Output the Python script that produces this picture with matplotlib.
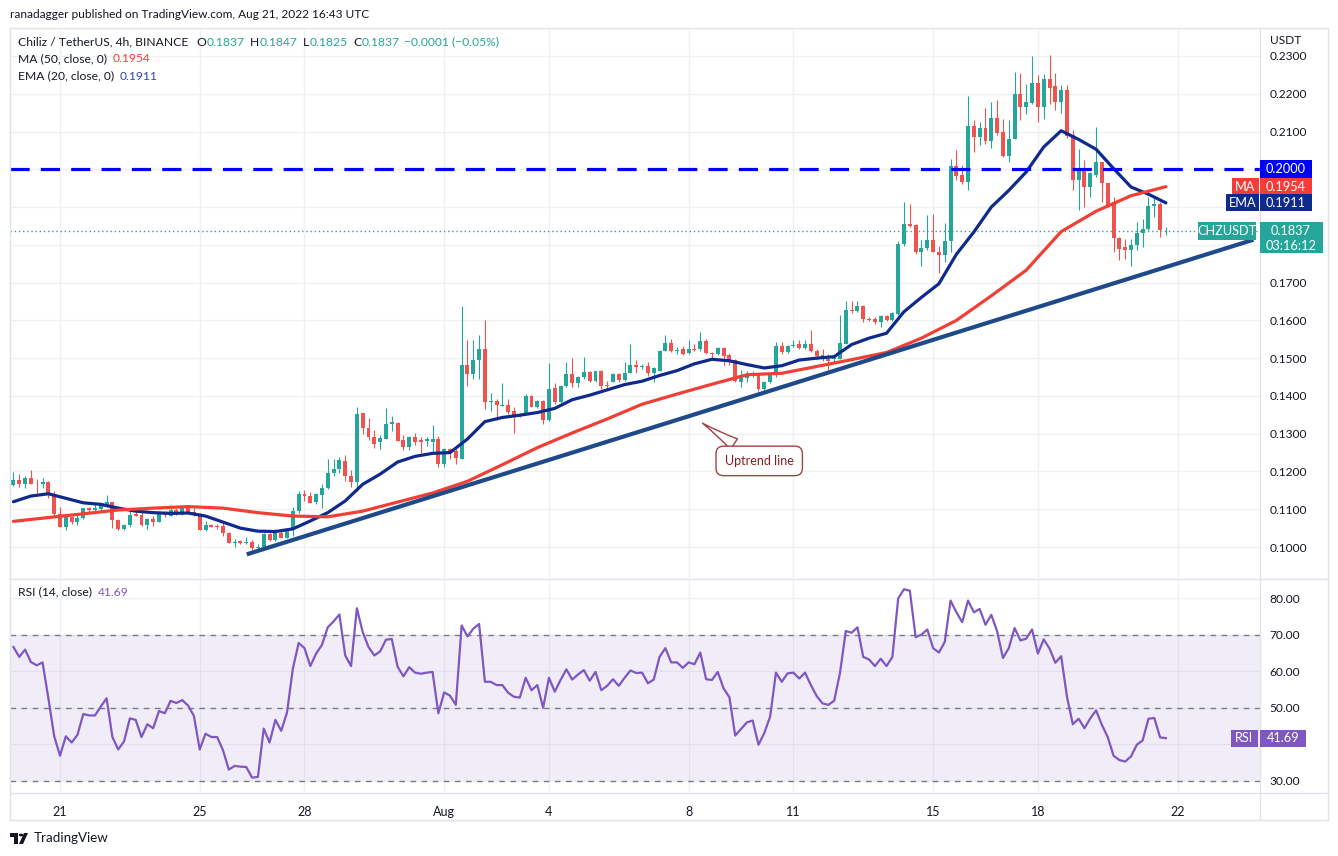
import numpy as np
import pandas as pd
import matplotlib
matplotlib.use("Agg")
import matplotlib.pyplot as plt
import matplotlib.dates as mdates
from matplotlib.patches import Rectangle, Polygon, Circle

plt.rcParams["font.family"] = ["Lato", "DejaVu Sans"]

# ---------------- data ----------------
start_time = "2022-07-19 16:00"
candle_hours = 4

opens = [.1164, .1177, .1168, .1182, .1168, .1166, .1172, .1137, .1088, .1054,
         .1080, .1067, .1076, .1103, .1099, .1100, .1108, .1119, .1071, .1048,
         .1058, .1087, .1085, .1057, .1073, .1067, .1088, .1083, .1098, .1093,
         .1102, .1094, .1087, .1044, .1058, .1055, .1055, .1038, .1011, .1016,
         .1011, .1013, .0998, .1000, .1034, .1018, .1038, .1023, .1044, .1095,
         .1140, .1135, .1118, .1138, .1156, .1195, .1207, .1228, .1187, .1172,
         .1355, .1315, .1291, .1277, .1287, .1325, .1329, .1284, .1266, .1292,
         .1282, .1281, .1279, .1286, .1219, .1259, .1253, .1234, .1483, .1457,
         .1495, .1523, .1383, .1386, .1374, .1377, .1361, .1352, .1352, .1400,
         .1372, .1387, .1336, .1421, .1385, .1425, .1458, .1434, .1449, .1464,
         .1439, .1467, .1430, .1437, .1458, .1443, .1462, .1482, .1476, .1480,
         .1462, .1467, .1520, .1540, .1520, .1524, .1513, .1524, .1524, .1545,
         .1513, .1511, .1527, .1509, .1495, .1438, .1447, .1455, .1458, .1418,
         .1436, .1456, .1531, .1515, .1531, .1537, .1527, .1538, .1520, .1509,
         .1498, .1498, .1498, .1537, .1628, .1626, .1639, .1604, .1603, .1595,
         .1611, .1601, .1617, .1801, .1854, .1852, .1781, .1792, .1813, .1782,
         .1774, .1811, .2008, .1984, .1966, .2114, .2086, .2110, .2075, .2137,
         .2099, .2034, .2081, .2199, .2165, .2176, .2229, .2165, .2240, .2220,
         .2178, .2209, .2090, .1971, .1995, .1953, .1986, .2019, .1964, .1913,
         .1819, .1794, .1787, .1800, .1832, .1842, .1903, .1907, .1837]

highs = [.1199, .1193, .1188, .1204, .1179, .1182, .1174, .1149, .1106, .1082,
         .1082, .1087, .1104, .1106, .1115, .1113, .1138, .1120, .1075, .1062,
         .1100, .1097, .1095, .1078, .1082, .1095, .1095, .1111, .1104, .1104,
         .1104, .1104, .1090, .1069, .1060, .1062, .1064, .1040, .1020, .1018,
         .1027, .1018, .1009, .1036, .1038, .1047, .1042, .1047, .1106, .1149,
         .1150, .1146, .1142, .1166, .1232, .1232, .1237, .1243, .1204, .1371,
         .1356, .1342, .1309, .1296, .1368, .1347, .1331, .1296, .1294, .1301,
         .1290, .1290, .1323, .1294, .1261, .1261, .1259, .1637, .1548, .1549,
         .1562, .1602, .1409, .1392, .1433, .1392, .1371, .1356, .1405, .1402,
         .1390, .1390, .1487, .1434, .1428, .1491, .1501, .1454, .1504, .1467,
         .1467, .1469, .1440, .1462, .1462, .1489, .1537, .1495, .1485, .1489,
         .1476, .1522, .1560, .1551, .1529, .1533, .1548, .1537, .1570, .1550,
         .1517, .1530, .1529, .1513, .1498, .1469, .1467, .1467, .1461, .1440,
         .1462, .1542, .1542, .1535, .1548, .1548, .1548, .1575, .1524, .1524,
         .1511, .1509, .1615, .1650, .1652, .1652, .1642, .1608, .1610, .1613,
         .1613, .1622, .1810, .1913, .1909, .1856, .1813, .1878, .1882, .1798,
         .1857, .2028, .2052, .2010, .2193, .2130, .2125, .2163, .2178, .2183,
         .2134, .2130, .2258, .2255, .2227, .2299, .2249, .2252, .2302, .2254,
         .2223, .2223, .2103, .2055, .2024, .1993, .2112, .2019, .1964, .1926,
         .1821, .1816, .1816, .1860, .1869, .1926, .1926, .1913, .1847]

lows = [.1162, .1160, .1156, .1168, .1144, .1157, .1129, .1083, .1054, .1046,
        .1060, .1057, .1074, .1094, .1091, .1096, .1106, .1051, .1046, .1044,
        .1053, .1082, .1055, .1049, .1055, .1067, .1080, .1083, .1085, .1085,
        .1091, .1082, .1044, .1042, .1052, .1047, .1029, .1011, .1000, .1009,
        .1007, .0991, .0994, .0998, .1016, .1016, .1023, .1025, .1029, .1090,
        .1122, .1116, .1113, .1104, .1153, .1188, .1197, .1175, .1160, .1149,
        .1300, .1284, .1263, .1259, .1287, .1308, .1281, .1257, .1256, .1271,
        .1250, .1268, .1250, .1213, .1213, .1232, .1221, .1232, .1427, .1446,
        .1446, .1365, .1361, .1337, .1374, .1352, .1302, .1345, .1349, .1370,
        .1368, .1325, .1334, .1378, .1382, .1423, .1423, .1423, .1445, .1436,
        .1436, .1418, .1418, .1436, .1438, .1440, .1462, .1462, .1470, .1453,
        .1436, .1465, .1518, .1515, .1511, .1509, .1511, .1518, .1520, .1510,
        .1500, .1508, .1483, .1483, .1436, .1424, .1436, .1449, .1412, .1415,
        .1433, .1449, .1511, .1513, .1529, .1524, .1524, .1515, .1498, .1492,
        .1468, .1489, .1498, .1537, .1619, .1623, .1595, .1598, .1590, .1583,
        .1599, .1599, .1613, .1798, .1847, .1776, .1745, .1785, .1781, .1725,
        .1754, .1781, .1972, .1960, .1944, .2046, .2063, .2066, .2057, .2090,
        .2033, .2019, .2081, .2130, .2147, .2174, .2125, .2134, .2174, .2156,
        .2149, .2084, .1944, .1891, .1900, .1926, .1979, .1913, .1900, .1781,
        .1760, .1763, .1745, .1785, .1794, .1838, .1873, .1822, .1825]

closes = [.1177, .1168, .1182, .1168, .1166, .1172, .1137, .1088, .1054, .1080,
          .1067, .1076, .1103, .1099, .1102, .1111, .1119, .1071, .1048, .1058,
          .1085, .1083, .1057, .1073, .1067, .1088, .1085, .1098, .1093, .1102,
          .1093, .1087, .1044, .1058, .1054, .1053, .1038, .1011, .1014, .1011,
          .1013, .0998, .1000, .1034, .1018, .1038, .1023, .1044, .1095, .1140,
          .1134, .1116, .1140, .1156, .1195, .1207, .1231, .1187, .1172, .1352,
          .1314, .1290, .1274, .1288, .1326, .1330, .1281, .1266, .1292, .1279,
          .1279, .1286, .1287, .1219, .1259, .1250, .1235, .1483, .1457, .1496,
          .1523, .1383, .1386, .1376, .1377, .1358, .1349, .1347, .1400, .1372,
          .1387, .1337, .1418, .1385, .1425, .1458, .1434, .1449, .1464, .1439,
          .1465, .1427, .1425, .1458, .1443, .1462, .1482, .1476, .1480, .1462,
          .1473, .1520, .1540, .1520, .1522, .1511, .1524, .1521, .1545, .1513,
          .1511, .1527, .1507, .1495, .1440, .1449, .1456, .1458, .1418, .1436,
          .1456, .1531, .1515, .1533, .1535, .1527, .1538, .1518, .1507, .1498,
          .1492, .1502, .1539, .1628, .1624, .1639, .1604, .1601, .1595, .1611,
          .1601, .1619, .1801, .1854, .1849, .1781, .1792, .1813, .1781, .1774,
          .1811, .2008, .1981, .1966, .2114, .2086, .2110, .2075, .2137, .2096,
          .2034, .2081, .2199, .2165, .2178, .2229, .2165, .2240, .2216, .2178,
          .2209, .2087, .1971, .1995, .1953, .1990, .2019, .1964, .1906, .1818,
          .1789, .1787, .1800, .1832, .1842, .1904, .1907, .1838, .1837]

# EMA(20) read at every 3rd candle, MA(50) read at every 6th candle
ema20_step = 3
ema20 = [.1120, .1135, .1141, .1129, .1117, .1113, .1103, .1095, .1091, .1089,
         .1090, .1082, .1066, .1050, .1042, .1041, .1048, .1069, .1091, .1122,
         .1166, .1193, .1225, .1240, .1248, .1250, .1286, .1332, .1343, .1349,
         .1356, .1367, .1390, .1402, .1416, .1430, .1439, .1454, .1467, .1485,
         .1497, .1493, .1483, .1474, .1480, .1495, .1500, .1504, .1536, .1553,
         .1566, .1623, .1661, .1697, .1775, .1834, .1900, .1944, .1993, .2059,
         .2102, .2079, .2053, .2002, .1953, .1934, .1911]
ma50_step = 6
ma50 = [.1068, .1078, .1088, .1098, .1103, .1107, .1103, .1091, .1082, .1080,
        .1095, .1119, .1143, .1174, .1218, .1263, .1302, .1339, .1378, .1405,
        .1431, .1456, .1460, .1478, .1496, .1515, .1553, .1600, .1665, .1733,
        .1835, .1889, .1930, .1954]

rsi14 = [66.6, 63.9, 65.9, 62.5, 61.6, 62.4, 52.6, 42.2, 36.9, 42.2,
         40.5, 42.6, 48.3, 47.9, 47.9, 50.3, 52.6, 42.0, 38.6, 40.8,
         47.1, 46.7, 42.0, 45.5, 44.4, 49.1, 48.5, 51.9, 51.3, 52.1,
         50.6, 47.8, 38.6, 42.9, 42.0, 42.0, 38.4, 33.1, 34.1, 33.9,
         33.8, 30.9, 31.1, 44.3, 40.5, 46.7, 43.7, 48.7, 60.7, 67.7,
         66.3, 61.4, 64.8, 67.2, 72.0, 73.6, 75.5, 64.3, 61.4, 77.2,
         70.7, 66.6, 64.3, 65.4, 68.6, 68.8, 61.2, 58.6, 61.1, 59.6,
         59.3, 59.6, 59.8, 48.5, 54.2, 53.3, 50.8, 72.5, 69.5, 71.6,
         72.9, 57.1, 57.1, 56.2, 56.2, 54.1, 53.0, 52.8, 58.2, 54.8,
         56.2, 50.0, 58.2, 54.4, 57.6, 60.5, 57.7, 59.1, 60.3, 57.4,
         59.8, 54.8, 56.0, 57.8, 56.0, 58.2, 60.2, 59.5, 59.6, 56.7,
         57.7, 63.9, 66.3, 62.4, 62.4, 60.9, 62.4, 61.9, 65.1, 57.8,
         57.6, 59.8, 55.3, 52.9, 42.4, 44.2, 46.0, 46.5, 39.9, 43.1,
         47.6, 59.6, 57.1, 59.4, 59.6, 58.0, 59.6, 56.2, 53.2, 51.2,
         50.8, 51.9, 59.5, 71.0, 70.5, 72.0, 63.9, 63.2, 61.4, 63.4,
         61.4, 63.9, 79.9, 82.4, 82.0, 69.3, 70.0, 71.4, 66.3, 65.1,
         68.0, 79.3, 76.1, 73.4, 79.3, 76.1, 77.0, 72.7, 75.4, 70.9,
         63.6, 66.3, 71.8, 68.4, 68.9, 71.4, 64.8, 68.7, 66.2, 62.3,
         64.1, 53.0, 45.5, 47.0, 44.4, 47.1, 49.3, 45.3, 42.0, 36.9,
         35.7, 35.3, 36.7, 39.9, 41.1, 47.0, 47.2, 41.9, 41.69]

level_price = 0.2000
trend_times = ["2022-07-26 08:20", "2022-08-24 04:05"]
trend_prices = [0.09806, 0.18135]
callout_tip = ("2022-08-08 07:55", 0.1332)
callout_text_pos = ("2022-08-10 00:30", 0.1228)
callout_text = "Uptrend line"

tick_dates = ["2022-07-21", "2022-07-25", "2022-07-28", "2022-08-01", "2022-08-04",
              "2022-08-08", "2022-08-11", "2022-08-15", "2022-08-18", "2022-08-22"]
tick_labels = ["21", "25", "28", "Aug", "4", "8", "11", "15", "18", "22"]
price_ticks = [0.10, 0.11, 0.12, 0.13, 0.14, 0.15, 0.16, 0.17, 0.18, 0.19, 0.20, 0.21, 0.22, 0.23]
rsi_ticks = [30, 40, 50, 60, 70, 80]
rsi_bands = [30, 50, 70]
countdown = "03:16:12"

# ---------------- styling ----------------
W, H = 1338, 856
UP, DOWN = "#26a69a", "#ef5350"
MA_C, EMA_C, LEVEL_C, TREND_C = "#f23f36", "#0f2a8c", "#0000ff", "#1f4a8a"
RSI_C = "#7e57c2"
GRID = "#eef0f4"
FRAME = "#e0e3eb"
TXT = "#131722"
HDR = 8.7

fig = plt.figure(figsize=(W / 100, H / 100), dpi=100)
fig.patch.set_facecolor("white")


def fx(x):
    return x / W


def fy(y):
    return 1 - y / H


def box(x0, y0, x1, y1):
    return [fx(x0), fy(y1), (x1 - x0) / W, (y1 - y0) / H]


ax = fig.add_axes(box(10, 28, 1260, 578))
axr = fig.add_axes(box(10, 579, 1260, 793), sharex=ax)

times = pd.date_range(start_time, periods=len(closes), freq=f"{candle_hours}h")
x = mdates.date2num(times)
O, Hh, L, C = map(np.array, (opens, highs, lows, closes))
up = C >= O
cols = np.where(up, UP, DOWN)

x0_day = mdates.date2num(pd.Timestamp("2022-07-21"))
ax.set_xlim(x0_day - 1.432, x0_day + 34.36)
ax.set_ylim(0.0918, 0.2374)
axr.set_ylim(26.7, 85.2)

for a in (ax, axr):
    for s in a.spines.values():
        s.set_visible(False)
    a.set_facecolor("white")


def y_img(a, val):
    return H - a.transData.transform((a.get_xlim()[0], val))[1]


# positions of the right-hand badges (used to hide the tick labels they cover)
main_badges = [level_price, ma50[-1], ema20[-1], C[-1]]
rsi_badges = [rsi14[-1]]


def visible(a, v, badges, tol):
    return all(abs(y_img(a, v) - y_img(a, b)) > tol for b in badges)


ax.set_xticks(mdates.date2num(pd.to_datetime(tick_dates)))
axr.set_xticklabels(tick_labels)
ax.set_yticks(price_ticks)
ax.set_yticklabels([f"{p:.4f}" if visible(ax, p, main_badges, 14) else "" for p in price_ticks])
ax.yaxis.tick_right()
ax.tick_params(axis="y", length=0, pad=7, labelsize=8.6, labelcolor=TXT)
ax.tick_params(axis="x", length=0, labelbottom=False)
ax.grid(True, color=GRID, lw=1, zorder=0)
ax.set_axisbelow(True)

axr.set_yticks(rsi_ticks)
axr.set_yticklabels([f"{v:.2f}" if visible(axr, v, rsi_badges, 12) else "" for v in rsi_ticks])
axr.yaxis.tick_right()
axr.tick_params(axis="y", length=0, pad=7, labelsize=8.6, labelcolor=TXT)
axr.tick_params(axis="x", length=0, pad=9, labelsize=9, labelcolor=TXT)
axr.grid(True, color=GRID, lw=1, zorder=0)
axr.set_axisbelow(True)

# candles
bw = candle_hours / 24 * 0.68
ax.vlines(x, L, Hh, colors=cols, lw=0.8, zorder=3)
ax.bar(x, np.maximum(np.abs(C - O), 0.00006), bottom=np.minimum(O, C), width=bw,
       color=cols, lw=0, zorder=4)

# indicator lines
ax.plot(x[::ema20_step], ema20, color=EMA_C, lw=2.3, zorder=5, solid_capstyle="round")
ax.plot(x[::ma50_step], ma50, color=MA_C, lw=2.3, zorder=5, solid_capstyle="round")

# horizontal level, trend line, last price
ax.axhline(level_price, color=LEVEL_C, lw=2.3, ls=(0, (6, 3.5)), zorder=6)
ax.plot(mdates.date2num(pd.to_datetime(trend_times)), trend_prices, color=TREND_C,
        lw=3.0, zorder=6, solid_capstyle="butt")
ax.axhline(C[-1], color=UP, lw=1, ls=(0, (1, 2)), zorder=2)

# callout
ax.annotate(callout_text,
            xy=(mdates.date2num(pd.Timestamp(callout_tip[0])), callout_tip[1]),
            xytext=(mdates.date2num(pd.Timestamp(callout_text_pos[0])), callout_text_pos[1]),
            ha="center", va="center", fontsize=9, color="#8c1d1d", zorder=8,
            bbox=dict(boxstyle="round,pad=0.7,rounding_size=0.6", fc="white", ec="#a34040", lw=1),
            arrowprops=dict(arrowstyle="wedge,tail_width=1.0,shrink_factor=0.4",
                            fc="white", ec="#a34040", lw=1))

# RSI panel
axr.axhspan(rsi_bands[0], rsi_bands[-1], color=RSI_C, alpha=0.1, lw=0, zorder=1)
for b in rsi_bands:
    axr.axhline(b, color="#787b86", lw=1, ls=(0, (4, 4)), zorder=2)
axr.plot(x, rsi14, color=RSI_C, lw=1.6, zorder=5)

# ---------------- frame ----------------
frame_lines = [((10, 1328), (28, 28)), ((10, 1328), (820, 820)), ((10, 10), (28, 820)),
               ((1328, 1328), (28, 820)), ((1260, 1260), (28, 820)),
               ((10, 1328), (578.5, 578.5)), ((10, 1328), (793, 793))]
for xs, ys in frame_lines:
    fig.add_artist(plt.Line2D([fx(v) for v in xs], [fy(v) for v in ys], color=FRAME, lw=1,
                              transform=fig.transFigure, zorder=10))

renderer = fig.canvas.get_renderer()


def seq_text(xpix, ypix, parts, size):
    for s, color, gap in parts:
        t = fig.text(fx(xpix), fy(ypix), s, color=color, fontsize=size, ha="left", va="center",
                     zorder=12)
        bb = t.get_window_extent(renderer=renderer)
        xpix = bb.x1 + gap


fig.text(fx(10), fy(15), "ranadagger published on TradingView.com, Aug 21, 2022 16:43 UTC",
         fontsize=8.6, color=TXT, ha="left", va="center")

chg = C[-1] - C[-2]
pct = chg / C[-2] * 100
sign = "\u2212" if chg < 0 else "+"
seq_text(18, 42, [("Chiliz / TetherUS, 4h, BINANCE", TXT, 8),
                  ("O", TXT, 0), (f"{O[-1]:.4f}", UP, 6),
                  ("H", TXT, 0), (f"{Hh[-1]:.4f}", UP, 6),
                  ("L", TXT, 0), (f"{L[-1]:.4f}", UP, 6),
                  ("C", TXT, 0), (f"{C[-1]:.4f}", UP, 4),
                  (f"{sign}{abs(chg):.4f} ({sign}{abs(pct):.2f}%)", UP, 0)], HDR)
seq_text(18, 59, [("MA (50, close, 0)", TXT, 6), (f"{ma50[-1]:.4f}", MA_C, 0)], HDR)
seq_text(18, 76, [("EMA (20, close, 0)", TXT, 6), (f"{ema20[-1]:.4f}", "#2f45b5", 0)], HDR)
seq_text(18, 592, [("RSI (14, close)", TXT, 6), (f"{rsi14[-1]:.2f}", RSI_C, 0)], HDR)

fig.text(fx(1270), fy(41), "USDT", fontsize=8.6, color=TXT, ha="left", va="center")


def badge(x0, x1, yc, h, color, text, size=9.2):
    fig.add_artist(Rectangle((fx(x0), fy(yc + h / 2)), (x1 - x0) / W, h / H, fc=color, ec="none",
                             transform=fig.transFigure, zorder=11))
    fig.text(fx((x0 + x1) / 2), fy(yc), text, color="white", fontsize=size,
             ha="center", va="center", zorder=12)


yl = y_img(ax, level_price)
badge(1260, 1312, yl, 18, LEVEL_C, f"{level_price:.4f}")
ym = y_img(ax, ma50[-1])
badge(1232, 1259, ym, 17, MA_C, "MA")
badge(1260, 1312, ym, 17, MA_C, f"{ma50[-1]:.4f}")
ye = y_img(ax, ema20[-1])
badge(1226, 1259, ye, 17, EMA_C, "EMA")
badge(1260, 1312, ye, 17, EMA_C, f"{ema20[-1]:.4f}")
yc = y_img(ax, C[-1])
badge(1198, 1256, yc, 18, UP, "CHZUSDT")
fig.add_artist(Rectangle((fx(1260), fy(yc + 22)), 63 / W, 31 / H, fc=UP, ec="none",
                         transform=fig.transFigure, zorder=11))
fig.text(fx(1291), fy(yc), f"{C[-1]:.4f}", color="white", fontsize=9.2, ha="center",
         va="center", zorder=12)
fig.text(fx(1291), fy(yc + 15), countdown, color="white", fontsize=9.2, ha="center",
         va="center", zorder=12)
yr = y_img(axr, rsi14[-1])
badge(1231, 1258, yr, 17, RSI_C, "RSI")
badge(1260, 1306, yr, 17, RSI_C, f"{rsi14[-1]:.2f}")

# TradingView logo
fig.add_artist(Rectangle((fx(10), fy(837)), 8 / W, 4 / H, fc=TXT, ec="none", transform=fig.transFigure))
fig.add_artist(Rectangle((fx(14), fy(844)), 4 / W, 11 / H, fc=TXT, ec="none", transform=fig.transFigure))
fig.add_artist(Circle((fx(21), fy(835)), 2.2 / W, fc=TXT, ec="none", transform=fig.transFigure))
fig.add_artist(Polygon([(fx(19), fy(844)), (fx(24), fy(833)), (fx(28), fy(833)), (fx(23), fy(844))],
                       closed=True, fc=TXT, ec="none", transform=fig.transFigure))
fig.text(fx(34), fy(838), "TradingView", fontsize=9.6, color=TXT, ha="left", va="center")

fig.savefig("out.png", dpi=100)
